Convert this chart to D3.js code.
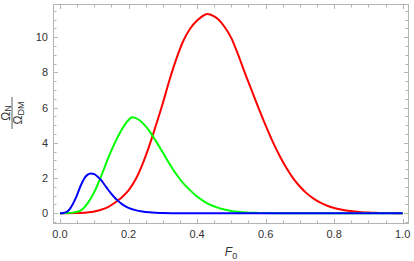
<!DOCTYPE html>
<html>
<head>
<meta charset="utf-8">
<script src="https://cdn.jsdelivr.net/npm/d3@7"></script>
<style>
html,body{margin:0;padding:0;background:#fff;}
svg{display:block;font-family:"Liberation Sans",Arial,sans-serif;}
</style>
</head>
<body>
<svg id="chart" width="414" height="261"></svg>
<script>
// F_0 sample points
const fRed   = [0,0.02,0.04,0.06,0.08,0.10,0.12,0.14,0.16,0.18,0.20,0.22,0.24,0.26,0.28,0.30,0.32,0.34,0.36,0.38,0.40,0.42,0.43,0.44,0.46,0.48,0.50,0.52,0.54,0.56,0.58,0.60,0.62,0.64,0.66,0.68,0.70,0.72,0.74,0.76,0.78,0.80,0.82,0.84,0.86,0.88,0.90,0.92,0.94,0.96,0.98,1.0];
const redVals = [0,0.003,0.01,0.02,0.05,0.1,0.2,0.35,0.6,0.9,1.3,1.9,2.75,3.8,5.0,6.25,7.6,8.8,9.8,10.5,10.95,11.25,11.32,11.28,11.05,10.6,9.95,9.0,7.95,6.95,5.95,5.0,4.1,3.3,2.6,2.0,1.52,1.13,0.83,0.6,0.43,0.3,0.21,0.14,0.095,0.063,0.04,0.025,0.015,0.009,0.005,0.003];

const fGreen = [0,0.02,0.04,0.06,0.08,0.10,0.12,0.14,0.16,0.18,0.20,0.21,0.22,0.24,0.26,0.28,0.30,0.32,0.34,0.36,0.38,0.40,0.42,0.44,0.46,0.48,0.50,0.52,0.54,0.56,0.58,0.60,0.65,0.70,0.80,0.90,1.0];
const greenVals = [0,0.01,0.05,0.15,0.55,1.2,2.1,3.1,4.0,4.75,5.3,5.45,5.42,5.15,4.7,4.1,3.45,2.8,2.2,1.7,1.3,0.95,0.68,0.47,0.32,0.21,0.13,0.08,0.05,0.03,0.02,0.012,0.004,0.001,0,0,0];

const fBlue = [0,0.01,0.02,0.03,0.04,0.05,0.06,0.07,0.08,0.09,0.10,0.11,0.12,0.13,0.14,0.15,0.16,0.17,0.18,0.19,0.20,0.22,0.24,0.26,0.28,0.30,0.33,0.36,0.40,0.50,0.60,0.70,0.80,0.90,1.0];
const blueVals = [0,0.02,0.08,0.28,0.62,1.05,1.55,1.95,2.18,2.26,2.22,2.08,1.88,1.62,1.35,1.1,0.88,0.69,0.53,0.41,0.31,0.18,0.1,0.055,0.03,0.015,0.006,0.002,0,0,0,0,0,0,0];

const xMajor = [0,0.2,0.4,0.6,0.8,1.0];
const xTickLabels = ["0.0","0.2","0.4","0.6","0.8","1.0"];
const yMajor = [0,2,4,6,8,10];
const yTickLabels = ["0","2","4","6","8","10"];

const svg = d3.select("#chart");
const L=53, R=409, T=4, B=224;
const x = d3.scaleLinear().domain([-0.0204,1.0184]).range([L,R]);
const y = d3.scaleLinear().domain([-0.61,11.89]).range([B,T]);

const xMinor = d3.range(-0.0, 1.0001, 0.05).filter(v=>!xMajor.some(m=>Math.abs(m-v)<1e-6));
const yMinor = d3.range(-0.5, 11.9, 0.5).filter(v=>!yMajor.some(m=>Math.abs(m-v)<1e-6));

const frameCol = "#b4b4b4";
const g = svg.append("g");

// curves
const series = [
  {f:fRed, v:redVals, c:"#ff0000"},
  {f:fGreen, v:greenVals, c:"#00ff00"},
  {f:fBlue, v:blueVals, c:"#0000ff"}
];
const line = d3.line().x(d=>x(d[0])).y(d=>y(Math.max(0,d[1]))).curve(d3.curveMonotoneX);
svg.append("clipPath").attr("id","clp").append("rect").attr("x",L).attr("y",T).attr("width",R-L).attr("height",B-T);
series.forEach(s=>{
  g.append("path").attr("d", line(s.f.map((f,i)=>[f,s.v[i]])))
   .attr("fill","none").attr("stroke",s.c).attr("stroke-width",2).attr("clip-path","url(#clp)")
   .attr("stroke-linejoin","round");
});

// frame
svg.append("rect").attr("x",L+0.5).attr("y",T+0.5).attr("width",R-L-1).attr("height",B-T-1)
  .attr("fill","none").attr("stroke",frameCol).attr("stroke-width",1);

function ticks(vals, len, axis){
  vals.forEach(v=>{
    if(axis==="x"){
      const px = Math.round(x(v))+0.5;
      svg.append("line").attr("x1",px).attr("x2",px).attr("y1",B-1).attr("y2",B-1-len).attr("stroke",frameCol);
      svg.append("line").attr("x1",px).attr("x2",px).attr("y1",T+1).attr("y2",T+1+len).attr("stroke",frameCol);
    } else {
      const py = Math.round(y(v))+0.5;
      svg.append("line").attr("x1",L+1).attr("x2",L+1+len).attr("y1",py).attr("y2",py).attr("stroke",frameCol);
      svg.append("line").attr("x1",R-1).attr("x2",R-1-len).attr("y1",py).attr("y2",py).attr("stroke",frameCol);
    }
  });
}
ticks(xMajor,4,"x"); ticks(xMinor,2.5,"x");
ticks(yMajor,4,"y"); ticks(yMinor,2.5,"y");

const labCol = "#333";
xMajor.forEach((v,i)=>{
  svg.append("text").attr("x",x(v)).attr("y",238).attr("text-anchor","middle")
    .attr("font-size",11).attr("fill",labCol).text(xTickLabels[i]);
});
yMajor.forEach((v,i)=>{
  svg.append("text").attr("x",48).attr("y",y(v)+4).attr("text-anchor","end")
    .attr("font-size",11).attr("fill",labCol).text(yTickLabels[i]);
});

// x label F_0
const xl = svg.append("text").attr("x",231).attr("y",256).attr("text-anchor","middle").attr("font-size",12).attr("fill",labCol);
xl.append("tspan").attr("font-style","italic").text("F");
xl.append("tspan").attr("font-size",9).attr("dy",2.5).text("0");

// y label fraction, rotated
const yl = svg.append("g").attr("transform","translate(12,113) rotate(-90)");
const num = yl.append("text").attr("x",0).attr("y",-2.5).attr("text-anchor","middle").attr("font-size",12).attr("fill",labCol);
num.append("tspan").text("Ω");
num.append("tspan").attr("font-size",9).attr("dy",1.5).text("N");
yl.append("line").attr("x1",-16).attr("x2",16).attr("y1",0).attr("y2",0).attr("stroke",labCol).attr("stroke-width",0.8);
const den = yl.append("text").attr("x",0).attr("y",10).attr("text-anchor","middle").attr("font-size",12).attr("fill",labCol);
den.append("tspan").text("Ω");
den.append("tspan").attr("font-size",9).attr("dy",1.5).text("DM");
</script>
</body>
</html>
